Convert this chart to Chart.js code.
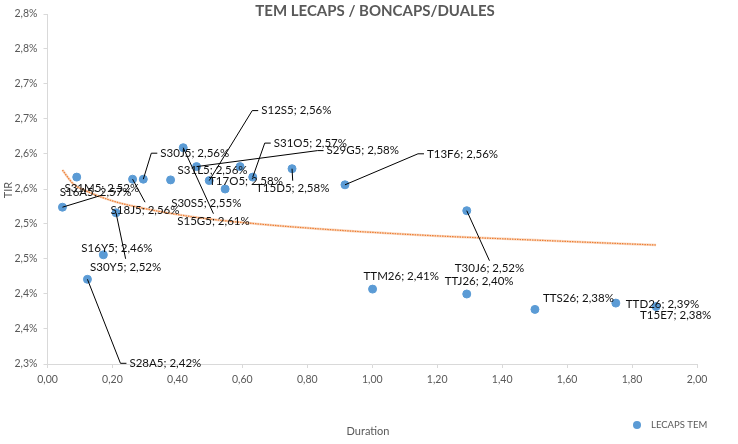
<!DOCTYPE html>
<html>
<head>
<meta charset="utf-8">
<script src="https://cdn.jsdelivr.net/npm/chart.js@4.4.1/dist/chart.umd.min.js"></script>
<style>
  html, body { margin: 0; padding: 0; background: #fff; }
  #wrap { width: 738px; height: 444px; }
</style>
</head>
<body>
<div id="wrap"><canvas id="myChart" width="738" height="444"></canvas></div>
<script>
const bondNames = ['S31M5', 'S16A5', 'S28A5', 'S16Y5', 'S30Y5', 'S18J5', 'S30J5', 'S31L5', 'S15G5', 'S29G5', 'S12S5',
                   'S30S5', 'T17O5', 'S31O5', 'T15D5', 'T13F6', 'T30J6', 'TTM26', 'TTJ26', 'TTS26', 'TTD26', 'T15E7'];
const duration = [0.046, 0.090, 0.123, 0.172, 0.211, 0.262, 0.295, 0.379, 0.418, 0.459, 0.498,
                  0.547, 0.593, 0.632, 0.753, 0.916, 1.291, 1.001, 1.291, 1.501, 1.750, 1.874];
const tir = [2.524, 2.567, 2.421, 2.456, 2.516, 2.564, 2.564, 2.563, 2.609, 2.582, 2.562,
             2.550, 2.582, 2.567, 2.579, 2.556, 2.519, 2.407, 2.400, 2.378, 2.387, 2.382];

// trend line
const trendDuration = [0.046, 0.08, 0.12, 0.2, 0.3, 0.45, 0.65, 0.9, 1.2, 1.5, 1.874];
const trendTir = [2.577, 2.557, 2.547, 2.533, 2.522, 2.510, 2.500, 2.491, 2.483, 2.477, 2.470];

const xTickLabels = ['0,00', '0,20', '0,40', '0,60', '0,80', '1,00', '1,20', '1,40', '1,60', '1,80', '2,00'];
const yTickLabels = ['2,3%', '2,4%', '2,4%', '2,5%', '2,5%', '2,6%', '2,6%', '2,7%', '2,7%', '2,8%', '2,8%'];

// where each data label sits: px offset from the point to the left-middle of the text, and leader type
const labelPos = {
  S31M5: [2, -19, 'bottom'], S16A5: [-17, 15], S28A5: [42, 84, 'left'], S16Y5: [-22, -7],
  S30Y5: [-26, 54, 'top'], S18J5: [-22, 31, 'top'], S30J5: [17, -26, 'left'], S31L5: [7, -10],
  S15G5: [-6, 74, 'top'], S29G5: [130, -16, 'left'], S12S5: [52, -70, 'left'], S30S5: [-54, 14],
  T17O5: [-31, 15], S31O5: [21, -34, 'left'], T15D5: [-36, 20, 'top'], T13F6: [82, -31, 'left'],
  T30J6: [-12, 58, 'top'], TTM26: [-9, -13], TTJ26: [-22, -13], TTS26: [8, -11],
  TTD26: [10, 1], T15E7: [-16, 9]
};

const grey = '#595959';
const labelFont = '11.5px Lato';

const labelPlugin = {
  id: 'pointLabels',
  afterDatasetsDraw(chart) {
    const ctx = chart.ctx;
    const meta = chart.getDatasetMeta(0);
    ctx.save();
    ctx.font = labelFont;
    ctx.textBaseline = 'middle';
    meta.data.forEach((pt, i) => {
      const name = bondNames[i];
      const pos = labelPos[name];
      const text = name + '; ' + tir[i].toFixed(2).replace('.', ',') + '%';
      const w = ctx.measureText(text).width;
      const left = pt.x + pos[0];
      const cy = pt.y + pos[1];
      if (pos[2]) {
        ctx.strokeStyle = '#000';
        ctx.lineWidth = 1;
        ctx.beginPath();
        if (pos[2] == 'left') {
          ctx.moveTo(left - 3, cy);
          ctx.lineTo(left - 9, cy);
          ctx.lineTo(pt.x, pt.y);
        } else if (pos[2] == 'top') {
          ctx.moveTo(left + w / 2, cy - 8);
          ctx.lineTo(pt.x, pt.y);
        } else {
          ctx.moveTo(left + w / 2, cy + 7);
          ctx.lineTo(pt.x, pt.y);
        }
        ctx.stroke();
      }
      ctx.fillStyle = '#111';
      ctx.fillText(text, left, cy);
    });
    ctx.restore();
  }
};

const textPlugin = {
  id: 'texts',
  afterDraw(chart) {
    const ctx = chart.ctx;
    ctx.save();
    ctx.fillStyle = grey;
    ctx.textBaseline = 'middle';
    ctx.textAlign = 'center';
    ctx.font = 'bold 15px Lato';
    ctx.fillText('TEM LECAPS / BONCAPS/DUALES', 375, 11);
    ctx.font = '11px Lato';
    ctx.fillText('Duration', 368, 431);
    ctx.save();
    ctx.translate(8, 190);
    ctx.rotate(-Math.PI / 2);
    ctx.fillText('TIR', 0, 0);
    ctx.restore();
    // legend
    ctx.fillStyle = '#5B9BD5';
    ctx.beginPath();
    ctx.arc(637, 425, 4, 0, Math.PI * 2);
    ctx.fill();
    ctx.fillStyle = grey;
    ctx.textAlign = 'left';
    ctx.font = '9.5px Lato';
    ctx.fillText('LECAPS TEM', 651, 425);
    ctx.restore();
  }
};

const trendData = trendDuration.map((d, i) => ({ x: d, y: trendTir[i] }));

new Chart(document.getElementById('myChart'), {
  type: 'scatter',
  data: {
    datasets: [
      {
        label: 'LECAPS TEM',
        data: duration.map((d, i) => ({ x: d, y: tir[i] })),
        backgroundColor: '#5B9BD5',
        borderColor: '#5B9BD5',
        pointRadius: 4,
        order: 3
      },
      {
        label: 'trend glow',
        type: 'line',
        data: trendData,
        borderColor: 'rgba(244,177,131,0.5)',
        borderWidth: 2.5,
        pointRadius: 0,
        cubicInterpolationMode: 'monotone',
        order: 2
      },
      {
        label: 'trend',
        type: 'line',
        data: trendData,
        borderColor: '#ED7D31',
        borderWidth: 1.2,
        borderDash: [1.5, 1],
        pointRadius: 0,
        cubicInterpolationMode: 'monotone',
        order: 1
      }
    ]
  },
  options: {
    responsive: false,
    animation: false,
    layout: { padding: { top: 14, right: 41, left: 0, bottom: 0 } },
    plugins: { legend: { display: false }, tooltip: { enabled: false } },
    scales: {
      x: {
        type: 'linear',
        min: 0,
        max: 2,
        ticks: {
          stepSize: 0.2,
          callback: (v, i) => xTickLabels[i],
          color: grey,
          font: { family: 'Lato', size: 10.5 },
          padding: 5
        },
        grid: { drawOnChartArea: false, tickLength: 4, color: '#D9D9D9' },
        border: { color: '#D9D9D9' },
        afterFit: s => { s.height = 80; }
      },
      y: {
        min: 2.3,
        max: 2.8,
        ticks: {
          stepSize: 0.05,
          callback: (v, i) => yTickLabels[i],
          color: grey,
          font: { family: 'Lato', size: 10.5 },
          padding: 6
        },
        grid: { drawOnChartArea: false, tickLength: 4, color: '#D9D9D9' },
        border: { color: '#D9D9D9' },
        afterFit: s => { s.width = 47.5; }
      }
    }
  },
  plugins: [labelPlugin, textPlugin]
});
</script>
</body>
</html>
